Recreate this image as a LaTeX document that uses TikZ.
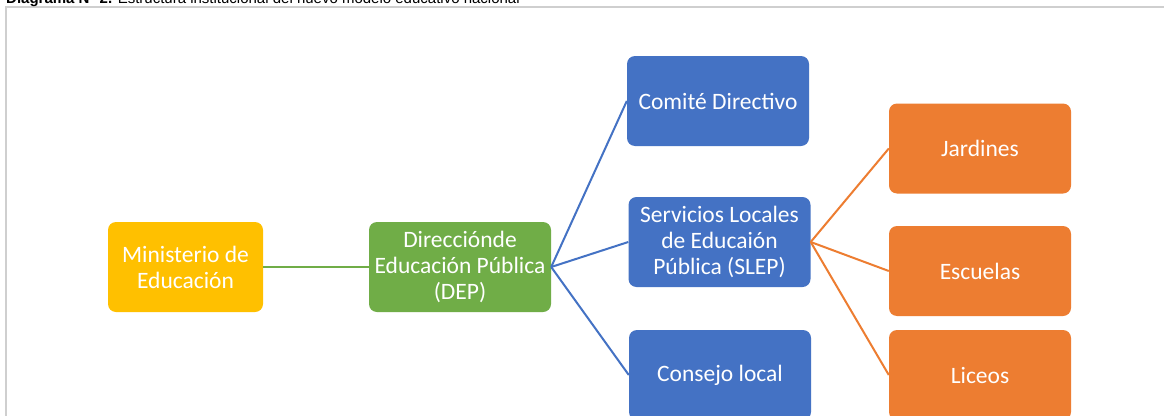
\documentclass[tikz,border=0pt]{standalone}
\usepackage{fontspec}
\setmainfont{Carlito}
\newfontfamily\capfont{Liberation Sans}
\definecolor{cyellow}{HTML}{FFC000}
\definecolor{cgreen}{HTML}{70AD47}
\definecolor{cblue}{HTML}{4472C4}
\definecolor{corange}{HTML}{ED7D31}
\definecolor{cframe}{HTML}{CFCFCF}
\tikzset{
  box/.style={rectangle, rounded corners=8pt, draw=none, text=white, align=center,
    minimum width=182pt, minimum height=90pt, inner sep=0pt,
    font=\fontsize{23.5pt}{26pt}\selectfont},
  link/.style={line width=2pt},
}
\begin{document}
\begin{tikzpicture}[x=1pt,y=-1pt]
\useasboundingbox (0,0) rectangle (1164,415);
\clip (0,0) rectangle (1164,415);
\fill[white] (0,0) rectangle (1164,415);
\draw[cframe, line width=2pt] (6,430) -- (6,7) -- (1180,7);
\node[anchor=base west, inner sep=0pt, font=\capfont\fontsize{15pt}{17pt}\selectfont] (cap) at (6,4)
  {\textbf{Diagrama N° 2.} Estructura institucional del nuevo modelo educativo nacional};
\node[box, fill=cyellow, minimum width=155pt] (min) at (185.5,267) {Ministerio de\\Educación};
\node[box, fill=cgreen] (dep) at (460,267) {Direcciónde\\Educación Pública\\(DEP)};
\node[box, fill=cblue] (com) at (718,101) {Comité Directivo};
\node[box, fill=cblue] (slep) at (719.5,242) {Servicios Locales\\de Educaión\\Pública (SLEP)};
\node[box, fill=cblue] (con) at (720,375) {Consejo local};
\node[box, fill=corange] (jar) at (980,148.5) {Jardines};
\node[box, fill=corange] (esc) at (980,271) {Escuelas};
\node[box, fill=corange] (lic) at (980,375) {Liceos};
\draw[link, cgreen] (min.east) -- (dep.west);
\draw[link, cblue] (dep.east) -- (com.west);
\draw[link, cblue] (dep.east) -- (slep.west);
\draw[link, cblue] (dep.east) -- (con.west);
\draw[link, corange] (slep.east) -- (jar.west);
\draw[link, corange] (slep.east) -- (esc.west);
\draw[link, corange] (slep.east) -- (lic.west);
\end{tikzpicture}
\end{document}
